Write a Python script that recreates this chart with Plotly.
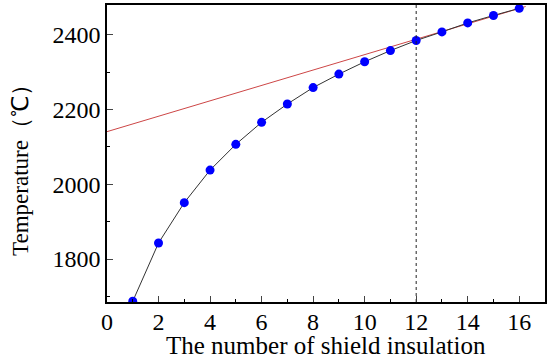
import plotly.graph_objects as go

shields = list(range(1, 17))
temps = [1687, 1843, 1951, 2038, 2107, 2166, 2215, 2259, 2295, 2328, 2358, 2385, 2408, 2432, 2452, 2471]
fit_x = [0, 16.25]
fit_y = [2141, 2476]
vline_x = 12
x_ticks = list(range(0, 17, 2))
y_ticks = [1800, 2000, 2200, 2400]
x_title = "The number of shield insulation"
y_title = "Temperature（℃）"

fig = go.Figure()
fig.add_trace(go.Scatter(x=fit_x, y=fit_y, mode="lines",
                         line=dict(color="rgb(205,70,70)", width=1), showlegend=False))
fig.add_trace(go.Scatter(x=shields, y=temps, mode="lines+markers",
                         line=dict(color="#333333", width=1),
                         marker=dict(color="#0000ff", size=9), showlegend=False))
fig.add_trace(go.Scatter(x=[vline_x, vline_x], y=[1685, 2480], mode="lines",
                         line=dict(color="#222222", width=1, dash="dot"), showlegend=False))

serif = "Liberation Serif, Times New Roman, serif"
tickfont = dict(family=serif, size=24, color="black")
xtitlefont = dict(family=serif, size=25, color="black")
ytitlefont = dict(family=serif, size=23, color="black")
fig.update_layout(
    width=550, height=360,
    margin=dict(l=107, r=5, t=5, b=58),
    paper_bgcolor="white", plot_bgcolor="white",
    font=tickfont,
    xaxis=dict(range=[0, 17], tickvals=x_ticks, ticks="inside", ticklen=6,
               showline=True, linecolor="black", linewidth=1.5, mirror=True,
               showgrid=False, zeroline=False, automargin=False,
               ticklabelstandoff=-3,
               minor=dict(dtick=1, ticks="inside", ticklen=3, tickcolor="black"),
               tickfont=tickfont),
    yaxis=dict(range=[1685, 2480], tickvals=y_ticks, ticks="inside", ticklen=6,
               showline=True, linecolor="black", linewidth=1.5, mirror=True,
               showgrid=False, zeroline=False, automargin=False,
               minor=dict(dtick=100, ticks="inside", ticklen=3, tickcolor="black"),
               tickfont=tickfont),
    annotations=[
        dict(text=x_title, xref="paper", yref="paper", x=0.5, y=-0.145,
             xanchor="center", yanchor="middle", showarrow=False, font=xtitlefont),
        dict(text=y_title, xref="paper", yref="paper", x=-0.196, y=0.462,
             xanchor="center", yanchor="middle", textangle=-90, showarrow=False, font=ytitlefont),
    ],
)
fig.write_html("out.html", config={"displayModeBar": False},
               post_script="document.body.style.margin='0';")
